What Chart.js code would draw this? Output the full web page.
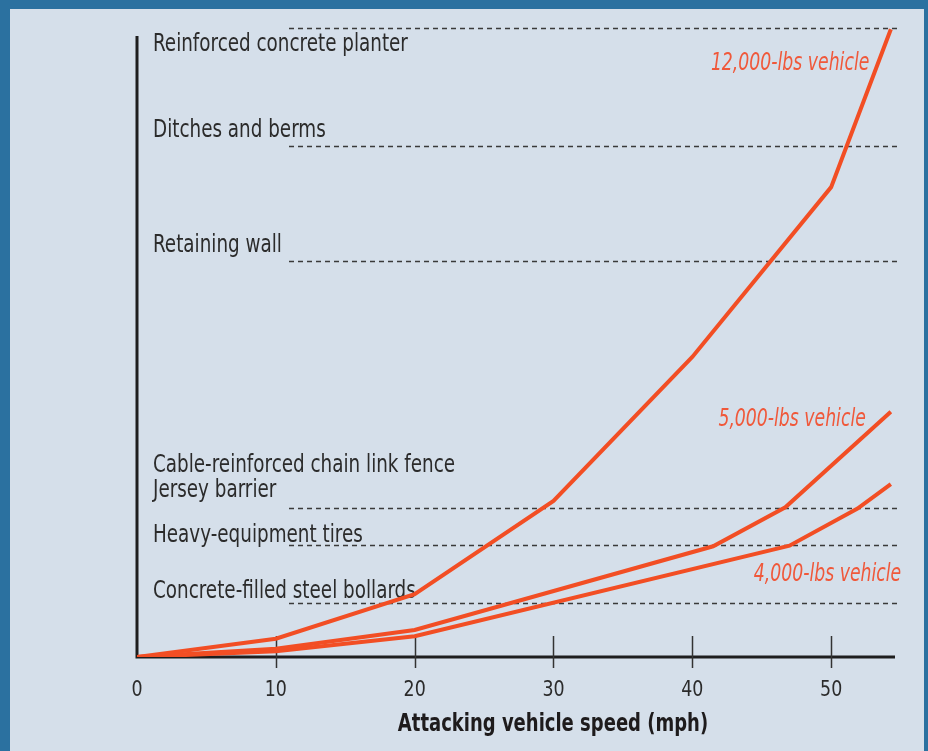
<!DOCTYPE html>
<html>
<head>
<meta charset="utf-8">
<script src="https://cdn.jsdelivr.net/npm/chart.js@4"></script>
<style>
  html, body { margin: 0; padding: 0; }
  body { width: 928px; height: 751px; background: #2b71a0; position: relative; overflow: hidden; }
  #panel { position: absolute; left: 10px; top: 9px; width: 914px; height: 742px; background: #d5dfea; }
  #wrap { position: absolute; left: 0; top: 0; width: 928px; height: 751px; }
</style>
</head>
<body>
<div id="panel"></div>
<div id="wrap"><canvas id="chart"></canvas></div>
<script>
// speeds (mph) at each bend of the curves
const speeds12k = [0, 10, 20, 30, 40, 50, 54.3];
const energy12k = [0, 2.9, 10.0, 24.8, 47.7, 74.7, 99.8];

const speeds5k = [0, 10, 20, 41.5, 46.7, 54.3];
const energy5k = [0, 1.3, 4.3, 17.6, 23.8, 39.0];

const speeds4k = [0, 10, 20, 47.0, 51.9, 54.3];
const energy4k = [0, 0.9, 3.3, 17.7, 23.6, 27.5];

const seriesNames = ['12,000-lbs vehicle', '5,000-lbs vehicle', '4,000-lbs vehicle'];

// barrier ratings (same units as the energy values)
const barrierLevels = [100, 81.2, 63.0, 23.7, 17.8, 8.6];
const barrierNames = [
  ['Reinforced concrete planter'],
  ['Ditches and berms'],
  ['Retaining wall'],
  ['Cable-reinforced chain link fence', 'Jersey barrier'],
  ['Heavy-equipment tires'],
  ['Concrete-filled steel bollards']
];

const xTicks = [0, 10, 20, 30, 40, 50];
const xTitle = 'Attacking vehicle speed (mph)';

const RED = '#f24e24';
const LABEL_RED = '#f0583a';
const INK = '#2b2b2b';
const FONT = '"DejaVu Sans Condensed", "DejaVu Sans", sans-serif';

const toPoints = (xs, ys) => xs.map((x, i) => ({ x: x, y: ys[i] }));

// text squeezed horizontally to get the condensed look of the original
function squeezed(ctx, text, x, y, sx) {
  ctx.save();
  ctx.translate(x, y);
  ctx.scale(sx, 1);
  ctx.fillText(text, 0, 0);
  ctx.restore();
}

// axes, barrier lines and all the text
const decorations = {
  id: 'decorations',
  beforeDatasetsDraw(chart) {
    const { ctx, scales: { x, y } } = chart;
    ctx.save();

    // dashed barrier lines
    ctx.strokeStyle = '#3a3a3a';
    ctx.lineWidth = 1.4;
    ctx.setLineDash([5, 4]);
    barrierLevels.forEach(v => {
      const py = Math.round(y.getPixelForValue(v)) + 0.5;
      ctx.beginPath();
      ctx.moveTo(289, py);
      ctx.lineTo(901, py);
      ctx.stroke();
    });
    ctx.setLineDash([]);

    // barrier labels (baseline offset from their line)
    const offsets = [23, -9, -9, -11, -3, -5];
    ctx.fillStyle = INK;
    ctx.font = '24px ' + FONT;
    ctx.textAlign = 'left';
    ctx.textBaseline = 'alphabetic';
    barrierLevels.forEach((v, i) => {
      const py = y.getPixelForValue(v);
      const lines = barrierNames[i];
      lines.forEach((t, j) => {
        const base = py + offsets[i] - (lines.length - 1 - j) * 25;
        squeezed(ctx, t, 153, base, 0.85);
      });
    });

    // axes
    const x0 = x.getPixelForValue(0);
    const y0 = y.getPixelForValue(0);
    ctx.strokeStyle = '#1e1e1e';
    ctx.lineWidth = 3;
    ctx.beginPath();
    ctx.moveTo(x0, 36);
    ctx.lineTo(x0, y0);
    ctx.lineTo(x.right, y0);
    ctx.stroke();

    // tick marks crossing the x axis
    ctx.strokeStyle = '#333';
    ctx.lineWidth = 1.5;
    xTicks.forEach(t => {
      if (t === 0) return;
      const px = Math.round(x.getPixelForValue(t)) + 0.5;
      ctx.beginPath();
      ctx.moveTo(px, y0 - 21);
      ctx.lineTo(px, y0 + 11);
      ctx.stroke();
    });

    // tick labels
    ctx.fillStyle = INK;
    ctx.font = '22px ' + FONT;
    ctx.textAlign = 'center';
    ctx.textBaseline = 'middle';
    xTicks.forEach(t => {
      squeezed(ctx, String(t), x.getPixelForValue(t), y0 + 33, 0.88);
    });

    // axis title
    ctx.font = 'bold 25px ' + FONT;
    ctx.fillStyle = '#1e1b1c';
    squeezed(ctx, xTitle, 553, 724, 0.8);

    // series labels, right-aligned
    ctx.fillStyle = LABEL_RED;
    ctx.font = 'italic 24px ' + FONT;
    ctx.textAlign = 'right';
    ctx.textBaseline = 'alphabetic';
    const anchors = [[52.75, 93.3], [52.5, 36.7], [55.05, 12.1]];
    seriesNames.forEach((s, i) => {
      squeezed(ctx, s, x.getPixelForValue(anchors[i][0]), y.getPixelForValue(anchors[i][1]), 0.8);
    });

    ctx.restore();
  }
};

const lineStyle = {
  borderColor: RED,
  borderWidth: 4,
  pointRadius: 0,
  fill: false,
  tension: 0,
  borderJoinStyle: 'miter',
  borderCapStyle: 'butt'
};

new Chart(document.getElementById('chart'), {
  type: 'line',
  data: {
    datasets: [
      Object.assign({ label: seriesNames[0], data: toPoints(speeds12k, energy12k) }, lineStyle),
      Object.assign({ label: seriesNames[1], data: toPoints(speeds5k, energy5k) }, lineStyle),
      Object.assign({ label: seriesNames[2], data: toPoints(speeds4k, energy4k) }, lineStyle)
    ]
  },
  options: {
    responsive: true,
    maintainAspectRatio: false,
    animation: false,
    layout: { padding: { left: 137, right: 33, top: 28, bottom: 94 } },
    plugins: {
      legend: { display: false },
      tooltip: { enabled: false }
    },
    scales: {
      x: { type: 'linear', min: 0, max: 54.6, display: false },
      y: { type: 'linear', min: 0, max: 100, display: false }
    }
  },
  plugins: [decorations]
});
</script>
</body>
</html>
